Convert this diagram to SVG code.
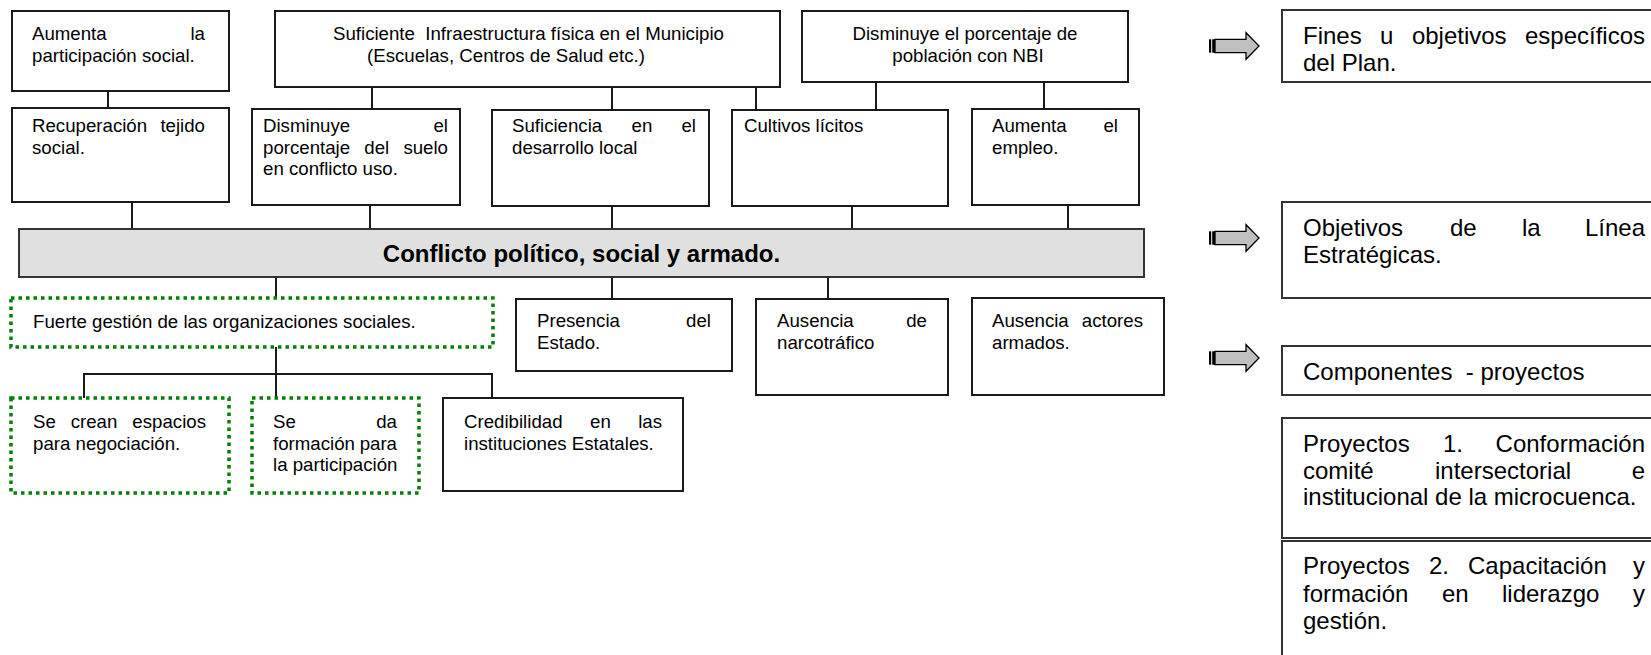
<svg xmlns="http://www.w3.org/2000/svg" width="1651" height="655" viewBox="0 0 1651 655">
<style>
.box{fill:#fff;stroke:#1a1a1a;stroke-width:2}
.rbox{fill:#fff;stroke:#333;stroke-width:2}
.dot{fill:#fff;stroke:#008000;stroke-width:3.5;stroke-dasharray:3.5 4}
.bar{fill:#e0e0e0;stroke:#333;stroke-width:2}
.conn{fill:none;stroke:#1a1a1a;stroke-width:2}
text{font-family:"Liberation Sans",Arial,sans-serif;font-size:18.67px;fill:#000}
.r{font-size:24px}
.b{font-size:24px;font-weight:bold}
.e{text-anchor:end}
.m{text-anchor:middle}
.arw{fill:#c0c0c0;stroke:#000;stroke-width:1.3}
</style>
<defs>
<g id="sarrow">
<rect x="0" y="-6.7" width="2.2" height="13.4" fill="#000"/>
<rect x="3.2" y="-6.7" width="2.8" height="13.4" fill="#000"/>
<polygon class="arw" points="6,-6.7 37,-6.7 37,-13.3 50,0 37,13.3 37,6.7 6,6.7"/>
</g>
</defs>

<g id="connectors">
<path class="conn" d="M108 91V108M372 87V109M612 87V110M756 87V110M876 82V110M1044 82V109M132 202V229M370 205V229M612 206V229M852 206V229M1068 205V229M276 277V298M612 277V299M828 277V299M276 347V398M84 398V374H492V398"/>
</g>

<g id="n-aumenta-part">
<rect class="box" x="12" y="11" width="217" height="80"/>
<text x="32" y="40">Aumenta</text><text class="e" x="205" y="40">la</text>
<text x="32" y="61.5">participación social.</text>
</g>

<g id="n-infra">
<rect class="box" x="275" y="11" width="505" height="76"/>
<text x="333" y="40" style="white-space:pre">Suficiente  Infraestructura física en el Municipio</text>
<text x="367" y="61.5">(Escuelas, Centros de Salud etc.)</text>
</g>

<g id="n-nbi">
<rect class="box" x="802" y="11" width="326" height="71"/>
<text class="m" x="965" y="40">Disminuye el porcentaje de</text>
<text class="m" x="968" y="61.5">población con NBI</text>
</g>

<g id="n-recuperacion">
<rect class="box" x="12" y="108" width="217" height="94"/>
<text x="32" y="132">Recuperación</text><text class="e" x="205" y="132">tejido</text>
<text x="32" y="153.5">social.</text>
</g>

<g id="n-suelo">
<rect class="box" x="252" y="109" width="208" height="96"/>
<text x="263" y="132">Disminuye</text><text class="e" x="448" y="132">el</text>
<text x="263" y="153.5">porcentaje</text><text x="364.3" y="153.5">del</text><text class="e" x="448" y="153.5">suelo</text>
<text x="263" y="175">en conflicto uso.</text>
</g>

<g id="n-suficiencia">
<rect class="box" x="492" y="110" width="217" height="96"/>
<text x="512" y="132">Suficiencia</text><text x="631.5" y="132">en</text><text class="e" x="696" y="132">el</text>
<text x="512" y="153.5">desarrollo local</text>
</g>

<g id="n-cultivos">
<rect class="box" x="732" y="110" width="216" height="96"/>
<text x="744" y="132">Cultivos lícitos</text>
</g>

<g id="n-empleo">
<rect class="box" x="972" y="109" width="167" height="96"/>
<text x="992" y="132">Aumenta</text><text class="e" x="1118" y="132">el</text>
<text x="992" y="153.5">empleo.</text>
</g>

<g id="n-conflicto">
<rect class="bar" x="19" y="229" width="1125" height="48"/>
<text class="b m" x="581.5" y="262">Conflicto político, social y armado.</text>
</g>

<g id="n-fuerte">
<rect class="dot" x="11" y="298" width="482" height="49"/>
<text x="33" y="328">Fuerte gestión de las organizaciones sociales.</text>
</g>

<g id="n-presencia">
<rect class="box" x="516" y="299" width="216" height="72"/>
<text x="537" y="327">Presencia</text><text class="e" x="711" y="327">del</text>
<text x="537" y="348.5">Estado.</text>
</g>

<g id="n-narco">
<rect class="box" x="756" y="299" width="192" height="96"/>
<text x="777" y="327">Ausencia</text><text class="e" x="927" y="327">de</text>
<text x="777" y="348.5">narcotráfico</text>
</g>

<g id="n-actores">
<rect class="box" x="972" y="298" width="192" height="97"/>
<text x="992" y="327">Ausencia</text><text class="e" x="1143" y="327">actores</text>
<text x="992" y="348.5">armados.</text>
</g>

<g id="n-espacios">
<rect class="dot" x="11" y="398" width="218" height="95"/>
<text x="33" y="428">Se</text><text x="70.7" y="428">crean</text><text class="e" x="206" y="428">espacios</text>
<text x="33" y="449.5">para negociación.</text>
</g>

<g id="n-formacion">
<rect class="dot" x="252" y="398" width="167" height="95"/>
<text x="273" y="428">Se</text><text class="e" x="397" y="428">da</text>
<text x="273" y="449.5">formación</text><text class="e" x="397" y="449.5">para</text>
<text x="273" y="471">la participación</text>
</g>

<g id="n-credibilidad">
<rect class="box" x="443" y="398" width="240" height="93"/>
<text x="464" y="428">Credibilidad</text><text x="590" y="428">en</text><text class="e" x="662" y="428">las</text>
<text x="464" y="449.5">instituciones Estatales.</text>
</g>

<g id="legend-arrows">
<use href="#sarrow" x="1209" y="46"/>
<use href="#sarrow" x="1209" y="238"/>
<use href="#sarrow" x="1209" y="358"/>
</g>

<g id="n-fines">
<rect class="rbox" x="1282" y="10" width="380" height="72"/>
<text class="r" x="1303" y="43.5">Fines</text><text class="r" x="1380.1" y="43.5">u</text><text class="r" x="1411.9" y="43.5">objetivos</text><text class="r e" x="1645" y="43.5">específicos</text>
<text class="r" x="1303" y="71">del Plan.</text>
</g>

<g id="n-objetivos">
<rect class="rbox" x="1282" y="202" width="380" height="96"/>
<text class="r" x="1303" y="236">Objetivos</text><text class="r" x="1450" y="236">de</text><text class="r" x="1522" y="236">la</text><text class="r e" x="1645" y="236">Línea</text>
<text class="r" x="1303" y="263">Estratégicas.</text>
</g>

<g id="n-componentes">
<rect class="rbox" x="1282" y="346" width="380" height="49"/>
<text class="r" x="1303" y="380" style="white-space:pre">Componentes  - proyectos</text>
</g>

<g id="n-proy1">
<rect class="rbox" x="1282" y="418" width="380" height="120"/>
<text class="r" x="1303" y="452">Proyectos</text><text class="r" x="1443" y="452">1.</text><text class="r e" x="1645" y="452">Conformación</text>
<text class="r" x="1303" y="478.5">comité</text><text class="r" x="1435" y="478.5">intersectorial</text><text class="r e" x="1645" y="478.5">e</text>
<text class="r" x="1303" y="505">institucional de la microcuenca.</text>
</g>

<g id="n-proy2">
<rect class="rbox" x="1282" y="541" width="380" height="125"/>
<text class="r" x="1303" y="574">Proyectos</text><text class="r" x="1429" y="574">2.</text><text class="r" x="1468" y="574">Capacitación</text><text class="r e" x="1645" y="574">y</text>
<text class="r" x="1303" y="601.5">formación</text><text class="r" x="1442" y="601.5">en</text><text class="r" x="1502" y="601.5">liderazgo</text><text class="r e" x="1645" y="601.5">y</text>
<text class="r" x="1303" y="628.5">gestión.</text>
</g>
</svg>
